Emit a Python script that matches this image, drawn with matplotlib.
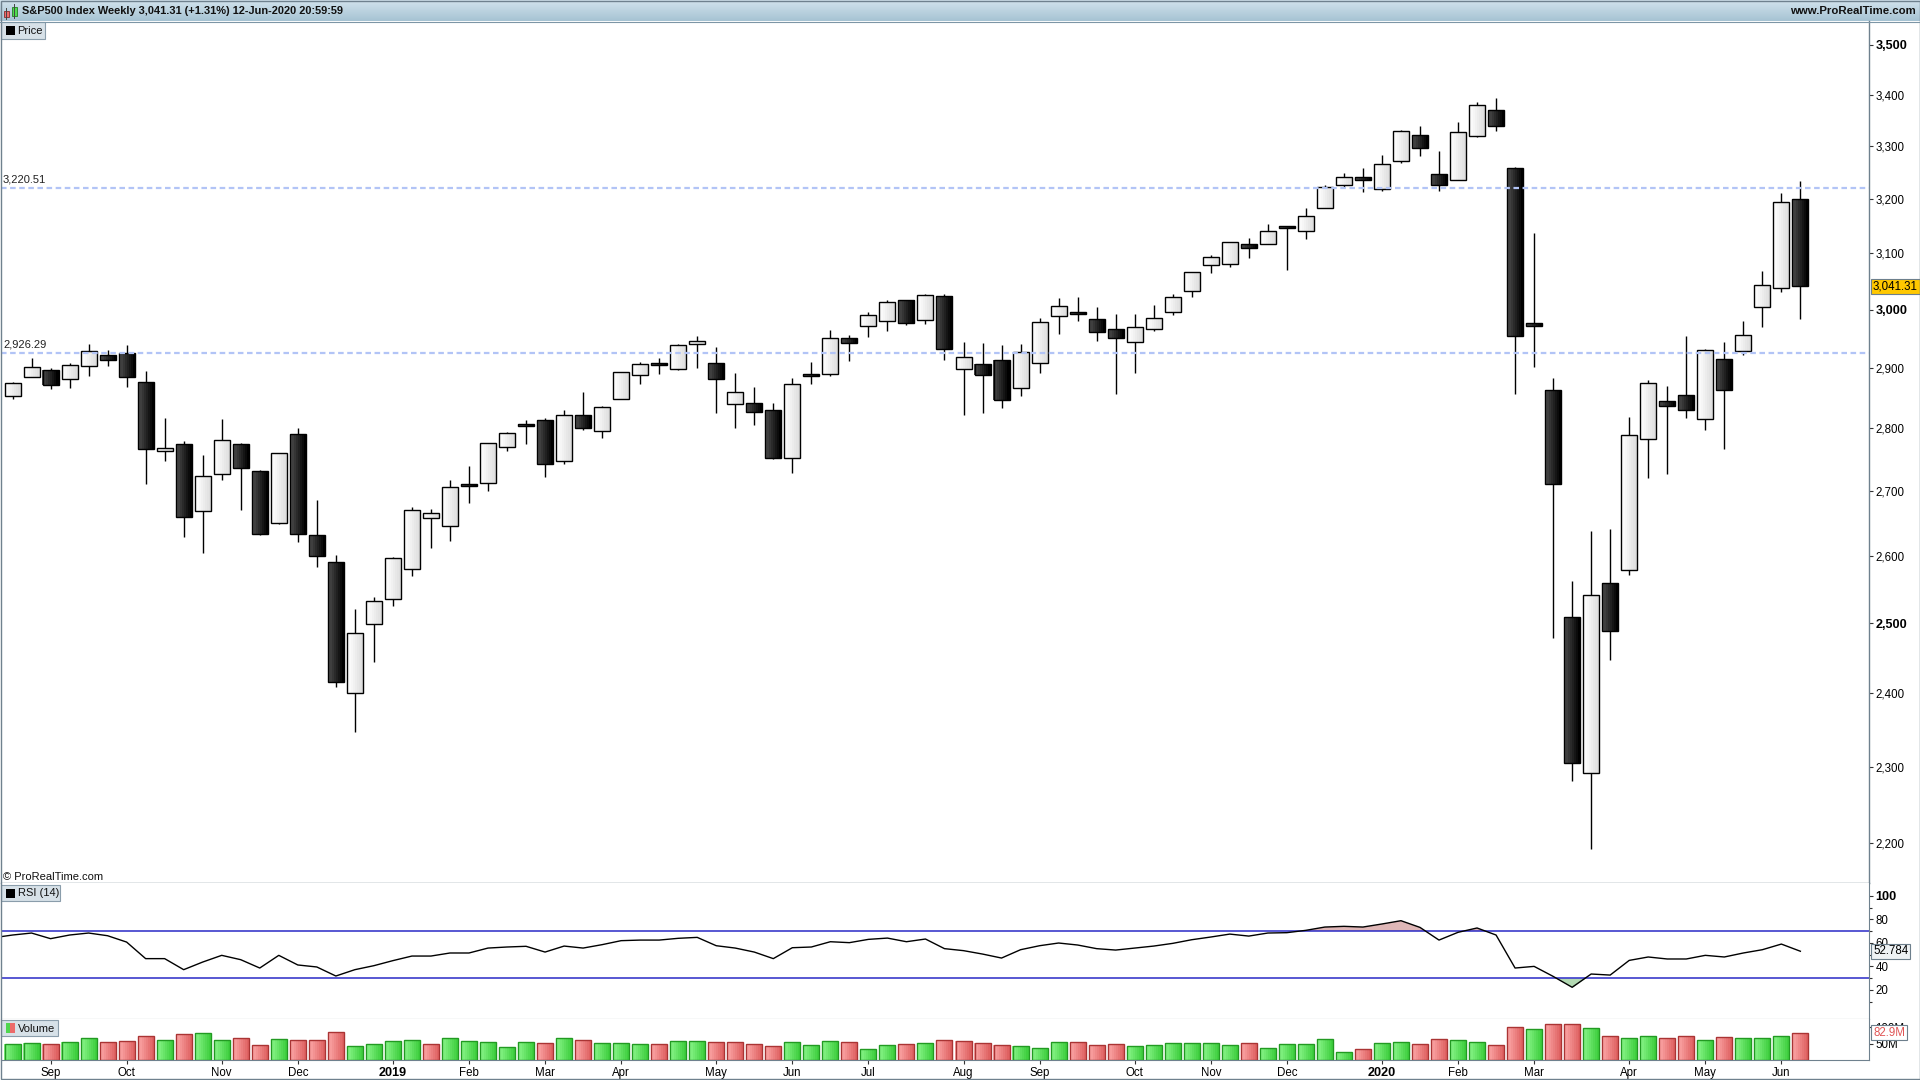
import numpy as np
import matplotlib
matplotlib.use("Agg")
import matplotlib.pyplot as plt
from matplotlib.patches import Rectangle
from matplotlib.colors import to_rgb
import matplotlib.ticker as mticker

W, H = 1920, 1080
plt.rcParams['font.family'] = ['Liberation Sans', 'DejaVu Sans']

title = "S&P500 Index Weekly 3,041.31 (+1.31%) 12-Jun-2020 20:59:59"
site = "www.ProRealTime.com"

# ---------------- data (weekly, week of 20-Aug-2018 .. week of 8-Jun-2020) ----------------
opens = [2853.9, 2884.7, 2897.0, 2881.4, 2903.8, 2921.8, 2926.3, 2876.0, 2763.8, 2774.9,
         2669.3, 2726.4, 2773.9, 2730.7, 2650.0, 2790.5, 2630.9, 2590.8, 2400.6, 2498.9,
         2535.6, 2580.3, 2657.9, 2645.0, 2710.0, 2712.4, 2769.3, 2804.4, 2814.4, 2747.6,
         2822.6, 2796.0, 2848.6, 2888.5, 2908.3, 2898.8, 2940.6, 2908.9, 2840.2, 2841.9,
         2830.0, 2751.5, 2888.0, 2889.8, 2951.4, 2971.4, 2979.8, 3017.8, 2981.9, 3024.5,
         2898.1, 2907.1, 2913.5, 2866.7, 2909.0, 2988.4, 2996.4, 2983.5, 2967.1, 2945.0,
         2965.8, 2996.5, 3032.1, 3078.9, 3080.3, 3117.9, 3117.4, 3148.0, 3140.0, 3183.6,
         3226.1, 3240.1, 3217.6, 3271.1, 3321.0, 3247.2, 3235.7, 3318.3, 3369.0, 3257.6,
         2974.3, 2863.9, 2508.6, 2290.7, 2559.0, 2578.3, 2782.5, 2845.6, 2854.7, 2815.0,
         2915.5, 2929.0, 3004.1, 3038.8, 3199.9]
highs = [2876.2, 2916.5, 2900.2, 2908.3, 2940.9, 2931.0, 2939.9, 2895.0, 2817.0, 2779.0,
         2756.6, 2815.2, 2776.0, 2733.0, 2760.9, 2800.2, 2685.4, 2601.1, 2520.3, 2538.1,
         2597.8, 2675.5, 2672.0, 2716.7, 2740.0, 2775.7, 2794.2, 2814.0, 2816.9, 2830.6,
         2860.3, 2837.0, 2893.4, 2910.5, 2916.6, 2940.3, 2954.1, 2935.0, 2891.5, 2868.0,
         2841.4, 2884.0, 2910.6, 2964.6, 2955.5, 2995.8, 3017.8, 3017.8, 3028.0, 3028.0,
         2944.2, 2943.3, 2939.1, 2940.4, 2985.9, 3021.0, 3022.9, 3005.0, 2992.5, 2993.3,
         3008.3, 3028.0, 3066.9, 3097.8, 3120.5, 3127.6, 3154.3, 3150.6, 3182.7, 3225.7,
         3247.9, 3258.1, 3282.3, 3329.9, 3337.8, 3291.0, 3347.0, 3385.1, 3393.5, 3259.8,
         3136.7, 2882.6, 2562.0, 2637.0, 2641.4, 2818.6, 2879.2, 2869.1, 2954.9, 2932.0,
         2944.3, 2980.3, 3068.7, 3211.7, 3233.1]
lows = [2848.0, 2884.7, 2864.1, 2866.0, 2886.2, 2903.3, 2869.0, 2710.5, 2748.0, 2628.2,
        2603.5, 2717.0, 2670.8, 2631.1, 2648.0, 2621.5, 2583.2, 2408.6, 2346.6, 2444.0,
        2524.6, 2570.0, 2612.0, 2622.0, 2681.8, 2700.0, 2764.0, 2774.0, 2722.1, 2743.0,
        2797.0, 2784.0, 2848.6, 2873.3, 2890.0, 2896.0, 2900.6, 2825.4, 2801.4, 2805.5,
        2750.5, 2728.8, 2873.0, 2887.3, 2912.0, 2952.2, 2962.7, 2973.1, 2976.0, 2914.1,
        2822.1, 2825.0, 2834.0, 2853.1, 2891.9, 2958.0, 2980.0, 2946.0, 2855.9, 2892.0,
        2964.0, 2990.7, 3022.0, 3065.0, 3075.0, 3091.4, 3117.4, 3070.3, 3126.0, 3183.6,
        3223.0, 3212.0, 3214.6, 3267.0, 3281.5, 3214.6, 3234.5, 3318.0, 3328.5, 2855.8,
        2901.5, 2478.9, 2280.5, 2191.9, 2447.5, 2571.0, 2721.0, 2727.1, 2817.0, 2797.5,
        2766.6, 2922.0, 2969.6, 3031.0, 2984.2]
closes = [2874.7, 2901.5, 2871.7, 2905.0, 2929.7, 2914.0, 2885.6, 2767.1, 2767.8, 2658.7,
          2723.1, 2781.0, 2736.3, 2632.6, 2760.2, 2633.1, 2600.0, 2416.6, 2485.7, 2531.9,
          2596.3, 2670.7, 2664.8, 2706.5, 2707.9, 2775.6, 2792.7, 2803.7, 2743.1, 2822.5,
          2800.7, 2834.4, 2892.7, 2907.4, 2905.0, 2939.9, 2945.6, 2881.4, 2859.5, 2826.1,
          2752.1, 2873.3, 2887.0, 2950.5, 2941.8, 2990.4, 3013.8, 2976.6, 3025.9, 2932.1,
          2918.7, 2888.7, 2847.1, 2926.5, 2978.7, 3007.4, 2992.1, 2961.8, 2952.0, 2970.3,
          2986.2, 3022.6, 3066.9, 3093.1, 3120.5, 3110.3, 3141.0, 3145.9, 3168.8, 3221.2,
          3240.0, 3234.9, 3265.4, 3329.6, 3295.5, 3225.5, 3327.7, 3380.2, 3337.8, 2954.2,
          2972.4, 2711.0, 2304.9, 2541.5, 2488.7, 2789.8, 2874.6, 2836.7, 2830.7, 2929.8,
          2863.7, 2955.5, 3044.3, 3193.9, 3041.31]
rsi_before = 64.3   # RSI of the week before the first visible candle
rsi = [66.6, 68.3, 63.5, 66.6, 68.3, 66.0, 60.6, 46.5, 46.5, 37.1,
       43.6, 49.3, 45.6, 38.5, 49.3, 41.1, 39.4, 31.7, 37.1, 40.5,
       44.8, 48.7, 48.7, 51.3, 51.3, 55.5, 56.4, 57.0, 52.1, 57.2,
       55.5, 58.4, 61.8, 62.3, 62.3, 63.8, 64.6, 57.5, 55.5, 52.1,
       46.5, 55.8, 56.4, 60.9, 60.1, 62.9, 64.0, 60.9, 63.2, 55.0,
       53.3, 50.4, 47.0, 54.1, 57.5, 59.8, 58.1, 55.0, 53.8, 55.5,
       57.2, 59.5, 62.6, 64.9, 67.4, 65.7, 68.3, 68.6, 70.6, 73.4,
       74.0, 73.4, 76.0, 78.8, 73.1, 62.3, 68.9, 72.6, 66.6, 38.5,
       39.9, 31.4, 22.1, 33.4, 32.5, 45.0, 47.9, 46.2, 46.2, 49.3,
       47.9, 51.3, 54.1, 58.9, 52.784]
volume_m = [49, 52, 49, 55, 67, 55, 58, 73, 61, 79,
            82, 61, 67, 46, 64, 61, 61, 85, 43, 49,
            58, 61, 49, 67, 58, 55, 40, 55, 52, 67,
            61, 52, 52, 49, 49, 58, 58, 55, 55, 49,
            43, 55, 46, 58, 55, 34, 46, 49, 52, 61,
            58, 52, 46, 43, 37, 55, 55, 46, 49, 43,
            46, 52, 52, 52, 46, 52, 37, 49, 49, 64,
            25, 34, 52, 55, 49, 63, 60, 55, 46, 100,
            93, 109, 109, 97, 73, 67, 73, 67, 73, 60,
            70, 67, 67, 73, 82.9]
month_idx = [2, 6, 11, 15, 20, 24, 28, 32, 37, 41, 45, 50, 54, 59, 63, 67, 72, 76, 80, 85, 89, 93]
month_labels = ['Sep', 'Oct', 'Nov', 'Dec', '2019', 'Feb', 'Mar', 'Apr', 'May', 'Jun', 'Jul',
                'Aug', 'Sep', 'Oct', 'Nov', 'Dec', '2020', 'Feb', 'Mar', 'Apr', 'May', 'Jun']
price_ticks = [2200, 2300, 2400, 2500, 2600, 2700, 2800, 2900, 3000, 3100, 3200, 3300, 3400, 3500]
levels = [3220.51, 2926.29]
rsi_ticks = [20, 40, 60, 80, 100]
rsi_minor = [10, 30, 50, 70, 90]
rsi_bands = [70, 30]
vol_ticks = [50, 100]

# ---------------- layout helpers ----------------
SP = 19.02   # pixels per week
X0 = 12.5    # pixel of first candle
AX_L, AX_R = 1, 1869
Y_TOP, Y_P, Y_R, Y_V = 21, 883, 1019, 1060
AXC = '#6f818e'
FS = 8.3


def px2x(p):
    return (p - X0) / SP


def rect(x0, y0, x1, y1):
    return [x0 / W, 1 - y1 / H, (x1 - x0) / W, (y1 - y0) / H]


def blend(c1, c2, t):
    a, b = np.array(to_rgb(c1)), np.array(to_rgb(c2))
    return tuple(a + (b - a) * t)


xlim = (px2x(AX_L), px2x(AX_R))
n = len(closes)
x = np.arange(n)
o, h, l, c = map(np.array, (opens, highs, lows, closes))
up = c >= o

fig = plt.figure(figsize=(W / 100, H / 100), dpi=100)
fig.patch.set_facecolor('white')

# ---------------- title bar ----------------
tb = fig.add_axes(rect(0, 0, W, Y_TOP))
g = np.linspace(0, 1, 40).reshape(-1, 1, 1)
top_c, bot_c = np.array(to_rgb('#d2e3ed')), np.array(to_rgb('#a6c3d3'))
tb.imshow(top_c + (bot_c - top_c) * g, aspect='auto', extent=(0, W, Y_TOP, 0))
tb.set_xlim(0, W)
tb.set_ylim(Y_TOP, 0)
tb.axis('off')
tb.text(22, 11.5, title, fontsize=7.9, fontweight='bold', va='center', ha='left', color='#111')
tb.text(W - 4, 11.5, site, fontsize=8.2, fontweight='bold', va='center', ha='right', color='#111')
tb.plot([6.2, 6.2], [8, 19], color='#444', lw=0.7)
tb.add_patch(Rectangle((3.6, 10.5), 5.2, 6.5, fc='#ee6a6a', ec='#8a2a2a', lw=0.6))
tb.plot([14.3, 14.3], [4, 18], color='#444', lw=0.7)
tb.add_patch(Rectangle((11.6, 6.5), 5.2, 9.5, fc='#4fdc4f', ec='#1f7f1f', lw=0.6))

# ---------------- price panel ----------------
ax = fig.add_axes(rect(AX_L, Y_TOP, AX_R, Y_P))
ax.set_yscale('log')
for s in ['left', 'top']:
    ax.spines[s].set_visible(False)
for s in ['right', 'bottom']:
    ax.spines[s].set_color(AXC)
    ax.spines[s].set_linewidth(1.0)

ax.vlines(x, l, h, color='black', lw=1.0, zorder=2)
body_lo = np.minimum(o, c)
body_hi = np.maximum(np.maximum(o, c), body_lo * np.exp(2.2 / 1719))
bw = 16 / SP
nstr = 8
for k in range(nstr):
    t = k / (nstr - 1)
    cu = blend('#ffffff', '#dedede', t)
    cd = blend('#4a4a4a', '#000000', t)
    cols = [cu if u else cd for u in up]
    ax.bar(x - bw / 2 + (k + 0.5) * bw / nstr, body_hi - body_lo, width=bw / nstr * 1.08,
           bottom=body_lo, color=cols, lw=0, zorder=3)
ax.bar(x, body_hi - body_lo, width=bw, bottom=body_lo, fill=False, edgecolor='black', lw=1.0, zorder=4)

for lv in levels:
    ax.axhline(lv, color='#b2c4f6', lw=1.6, dashes=(2.5, 1.6), zorder=5)
    ax.annotate(f'{lv:,.2f}', xy=(0, lv), xycoords=('axes fraction', 'data'), xytext=(2, 3),
                textcoords='offset pixels', fontsize=FS - 0.3, color='#222', va='bottom', ha='left')

ax.set_xlim(*xlim)
ax.set_ylim(3500 * np.exp(-(Y_P - 44.8) / 1719), 3500 * np.exp(-(Y_TOP - 44.8) / 1719))
ax.set_xticks([])
ax.yaxis.tick_right()
ax.set_yticks(price_ticks)
ax.yaxis.set_minor_locator(mticker.NullLocator())
ax.set_yticklabels([f'{t:,}' for t in price_ticks])
for lab, t in zip(ax.get_yticklabels(), price_ticks):
    if t % 500 == 0:
        lab.set_fontweight('bold')
        lab.set_fontsize(FS + 0.8)
    else:
        lab.set_fontsize(FS)
ax.tick_params(axis='y', which='major', length=3, width=0.8, color='#333', pad=1.5)
ax.annotate(f'{closes[-1]:,.2f}', xy=(1, closes[-1]), xycoords=('axes fraction', 'data'),
            xytext=(4, 0), textcoords='offset pixels', va='center', ha='left', fontsize=FS,
            bbox=dict(boxstyle='square,pad=0.15', fc='#ffc800', ec='#6d7f8c', lw=0.8),
            annotation_clip=False, zorder=20)

# ---------------- RSI panel ----------------
ar = fig.add_axes(rect(AX_L, Y_P, AX_R, Y_R))
ar.set_xlim(*xlim)
ar.set_ylim(-4.9, 110.9)
rx = np.arange(-1, n)
rv = np.array([rsi_before] + rsi)
ar.fill_between(rx, rv, 70, where=rv > 70, interpolate=True, color='#dfb7b7', lw=0, zorder=1)
ar.fill_between(rx, rv, 30, where=rv < 30, interpolate=True, color='#b3dab3', lw=0, zorder=1)
for b in rsi_bands:
    ar.axhline(b, color='#2a2ac6', lw=1.1, zorder=2)
ar.plot(rx, rv, color='black', lw=1.0, zorder=3)
ar.spines['top'].set_visible(False)
ar.spines['left'].set_visible(False)
for s in ['right', 'bottom']:
    ar.spines[s].set_color(AXC)
ar.set_xticks([])
ar.yaxis.tick_right()
ar.set_yticks(rsi_ticks)
ar.set_yticks(rsi_minor, minor=True)
ar.set_yticklabels([str(t) for t in rsi_ticks])
for lab, t in zip(ar.get_yticklabels(), rsi_ticks):
    lab.set_fontsize(FS + 0.8 if t == 100 else FS)
    if t == 100:
        lab.set_fontweight('bold')
ar.tick_params(axis='y', which='major', length=3, width=0.8, color='#333', pad=1.5)
ar.tick_params(axis='y', which='minor', length=2, width=0.8, color='#333')
ar.annotate(f'{rsi[-1]:.3f}', xy=(1, rsi[-1]), xycoords=('axes fraction', 'data'),
            xytext=(4, 0), textcoords='offset pixels', va='center', ha='left', fontsize=FS,
            bbox=dict(boxstyle='square,pad=0.15', fc='#eef2f4', ec='#6d7f8c', lw=0.8),
            annotation_clip=False, zorder=20)

# ---------------- volume panel ----------------
av = fig.add_axes(rect(AX_L, Y_R, AX_R, Y_V))
av.set_xlim(*xlim)
av.set_ylim(0, (Y_V - Y_R + 0.3) / 0.332)
vol_up = [True] + [closes[i] >= closes[i - 1] for i in range(1, n)]
vm = np.array(volume_m)
for k in range(nstr):
    t = k / (nstr - 1)
    cg = blend('#86f386', '#3fcf3f', t)
    cr = blend('#fba5a5', '#df6262', t)
    cols = [cg if u else cr for u in vol_up]
    av.bar(x - bw / 2 + (k + 0.5) * bw / nstr, vm, width=bw / nstr * 1.08, color=cols, lw=0, zorder=2)
av.bar(x, vm, width=bw, fill=False, edgecolor=['#229a22' if u else '#aa3434' for u in vol_up],
       lw=1.0, zorder=3)
av.spines['top'].set_visible(False)
av.spines['left'].set_visible(False)
for s in ['right', 'bottom']:
    av.spines[s].set_color(AXC)
av.yaxis.tick_right()
av.set_yticks(vol_ticks)
av.set_yticklabels([f'{t}M' for t in vol_ticks], fontsize=FS)
av.tick_params(axis='y', length=3, width=0.8, color='#333', pad=1.5)
av.annotate(f'{volume_m[-1]:.1f}M', xy=(1, volume_m[-1]), xycoords=('axes fraction', 'data'),
            xytext=(4, 0), textcoords='offset pixels', va='center', ha='left', fontsize=FS,
            color='#e05555',
            bbox=dict(boxstyle='square,pad=0.15', fc='white', ec='#6d7f8c', lw=0.8),
            annotation_clip=False, zorder=20)
av.set_xticks(month_idx)
av.set_xticklabels(month_labels)
for lab, t in zip(av.get_xticklabels(), month_labels):
    lab.set_fontsize(FS + 0.8 if t.isdigit() else FS)
    if t.isdigit():
        lab.set_fontweight('bold')
av.tick_params(axis='x', length=3, width=0.8, color='#333', pad=2)

# ---------------- overlay: panel labels, borders ----------------
ov = fig.add_axes([0, 0, 1, 1], zorder=10)
ov.set_xlim(0, W)
ov.set_ylim(H, 0)
ov.axis('off')
ov.patch.set_alpha(0)


def label_box(x0, y0, x1, y1, text):
    ov.add_patch(Rectangle((x0, y0), x1 - x0, y1 - y0, fc='#d7e1e8', ec='#8a9dab', lw=0.8))
    ov.text(17.5, (y0 + y1) / 2 + 0.5, text, fontsize=FS - 0.3, va='center', ha='left', color='#111')


label_box(1, 22, 45, 39, 'Price')
ov.add_patch(Rectangle((5.5, 26), 9, 8.5, fc='black', ec='none'))
label_box(1, 885, 60, 901, 'RSI (14)')
ov.add_patch(Rectangle((5.5, 889), 9, 8.5, fc='black', ec='none'))
label_box(1, 1020, 58, 1036, 'Volume')
ov.add_patch(Rectangle((5.5, 1023), 4.5, 9.5, fc='#4fd64f', ec='none'))
ov.add_patch(Rectangle((10, 1023), 4.5, 9.5, fc='#ec6a6a', ec='none'))
ov.text(3, 880, '\u00a9 ProRealTime.com', fontsize=FS - 0.3, va='baseline', ha='left', color='#111')
ov.plot([0, W], [Y_TOP + 0.5, Y_TOP + 0.5], color='#7d96a6', lw=0.8)
ov.add_patch(Rectangle((0.5, 0.5), W - 1, H - 1.8, fill=False, ec='#6f818e', lw=1.0))

fig.savefig('out.png', dpi=100, facecolor='white')
